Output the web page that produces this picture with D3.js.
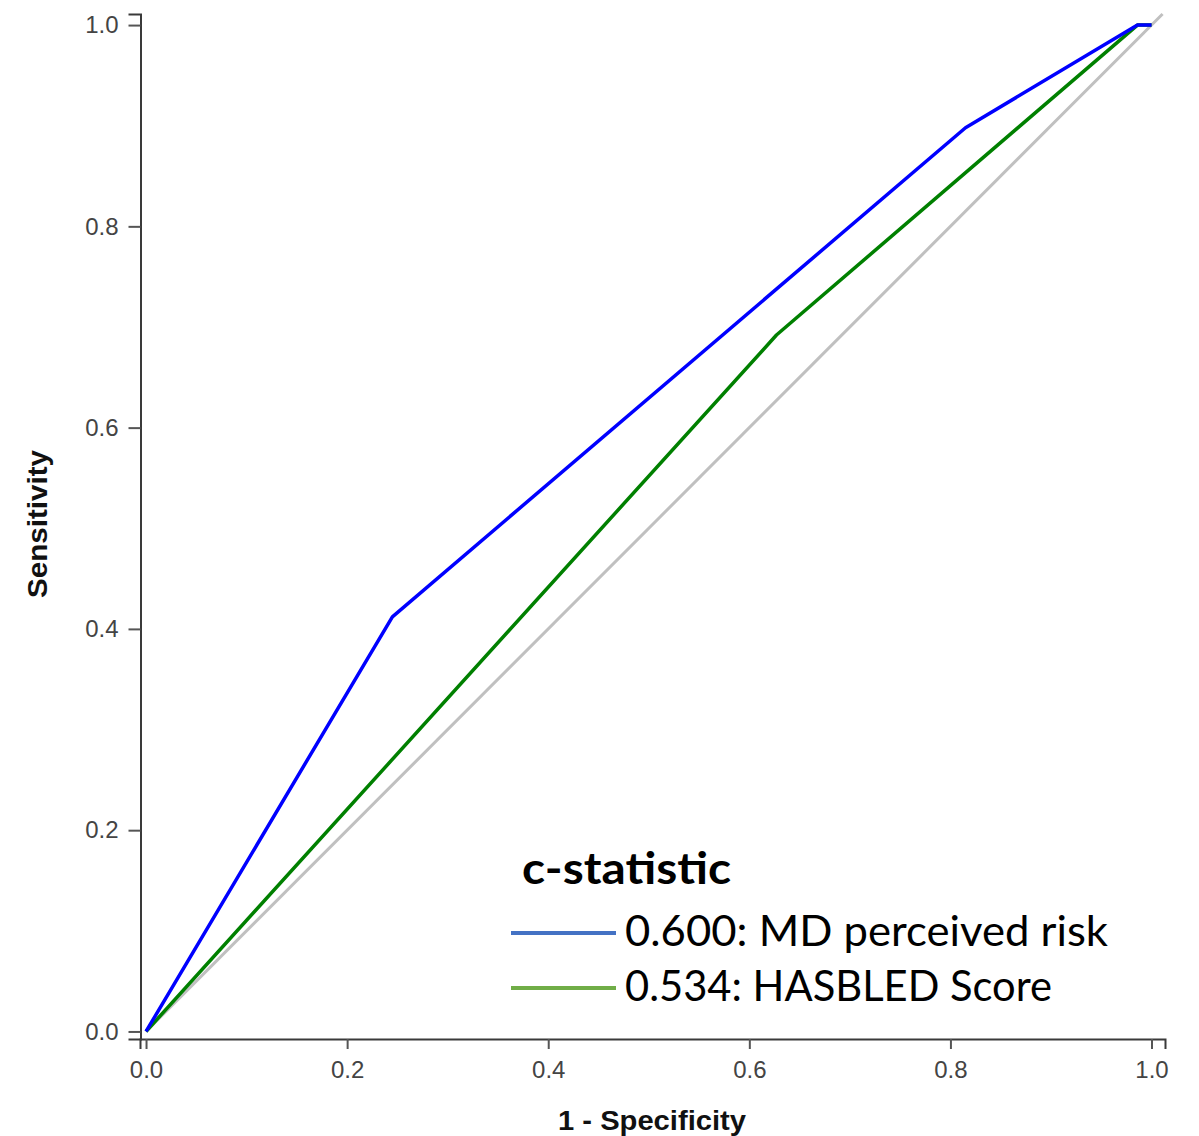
<!DOCTYPE html>
<html>
<head>
<meta charset="utf-8">
<script src="https://cdn.jsdelivr.net/npm/d3@7"></script>
<style>
	body { margin: 0; background: #fff; }
	svg { display: block; }
</style>
</head>
<body>
<svg width="1199" height="1136"></svg>
<script>
'use strict';
// ROC curve points, (1 - specificity, sensitivity)
let aMdFpr = [0, 0.245, 0.815, 0.986, 1.0]
let aMdTpr = [0, 0.412, 0.898, 1.0, 1.0]
let aHbFpr = [0, 0.627, 0.986, 1.0]
let aHbTpr = [0, 0.692, 1.0, 1.0]
// chance line runs a bit past 1 to the plot edge
let aRefEnd = [0, 1.011]

let aTicks = [0, 0.2, 0.4, 0.6, 0.8, 1.0]
let aLegend = ["0.600: MD perceived risk", "0.534: HASBLED Score"]
let aLegendCol = ["#4472c4", "#70ad47"]
let aLineCol = ["#0000ff", "#008000"]

let eSvg = d3.select("svg")

let x = d3.scaleLinear().domain([-0.006, 1.0134]).range([140, 1165])
let y = d3.scaleLinear().domain([-0.0075, 1.011]).range([1039, 14])

let fmt = d3.format(".1f")

// axes
let eXAxis = eSvg.append("g")
	.attr("transform", "translate(0,1039)")
	.call(d3.axisBottom(x).tickValues(aTicks).tickFormat(fmt).tickSizeOuter(0).tickSize(10).tickPadding(12))
let eYAxis = eSvg.append("g")
	.attr("transform", "translate(140.5,0)")
	.call(d3.axisLeft(y).tickValues(aTicks).tickFormat(fmt).tickSizeOuter(0).tickSize(12).tickPadding(10))

for (let eAx of [eXAxis, eYAxis]) {
	eAx.select(".domain").attr("stroke", "#3a3a3a").attr("stroke-width", 2)
	eAx.selectAll(".tick line").attr("stroke", "#555").attr("stroke-width", 2)
	eAx.selectAll(".tick text")
		.attr("fill", "#444")
		.style("font-family", "'Liberation Sans', Arial, sans-serif")
		.style("font-size", "24px")}

// axis titles
eSvg.append("text")
	.attr("x", 652).attr("y", 1130)
	.attr("text-anchor", "middle")
	.style("font-family", "'Liberation Sans', Arial, sans-serif")
	.style("font-weight", "bold").style("font-size", "27px")
	.attr("textLength", 188).attr("lengthAdjust", "spacingAndGlyphs")
	.attr("fill", "#111")
	.text("1 - Specificity")

eSvg.append("text")
	.attr("transform", "translate(47,524) rotate(-90)")
	.attr("text-anchor", "middle")
	.style("font-family", "'Liberation Sans', Arial, sans-serif")
	.style("font-weight", "bold").style("font-size", "27px")
	.attr("textLength", 148).attr("lengthAdjust", "spacingAndGlyphs")
	.attr("fill", "#111")
	.text("Sensitivity")

let line = d3.line().x(d => x(d[0])).y(d => y(d[1]))

// chance diagonal
eSvg.append("path")
	.datum(aRefEnd.map(v => [v, v]))
	.attr("d", line)
	.attr("fill", "none").attr("stroke", "#c0c0c0").attr("stroke-width", 3)

// curves, green under blue
let aCurves = [
	aMdFpr.map((v, i) => [v, aMdTpr[i]]),
	aHbFpr.map((v, i) => [v, aHbTpr[i]])]

eSvg.append("g").selectAll("path")
	.data([1, 0])
	.join("path")
	.attr("d", i => line(aCurves[i]))
	.attr("fill", "none")
	.attr("stroke", i => aLineCol[i])
	.attr("stroke-width", 3.5)
	.attr("stroke-linejoin", "round")

// legend block
let eLeg = eSvg.append("g")
eLeg.append("text")
	.attr("x", 522).attr("y", 884)
	.style("font-family", "Lato, 'Open Sans', sans-serif")
	.style("font-weight", "bold").style("font-size", "44px")
	.attr("textLength", 209).attr("lengthAdjust", "spacingAndGlyphs")
	.text("c-statistic")

let aLegW = [483, 427]
let eItems = eLeg.selectAll("g.item")
	.data(aLegend)
	.join("g")
	.attr("class", "item")
	.attr("transform", (d, i) => "translate(0," + (933 + i * 55) + ")")

eItems.append("line")
	.attr("x1", 511).attr("x2", 616)
	.attr("stroke", (d, i) => aLegendCol[i])
	.attr("stroke-width", 4)

eItems.append("text")
	.attr("x", 625).attr("y", 13)
	.style("font-family", "Lato, 'Open Sans', sans-serif")
	.style("font-size", "42px")
	.attr("textLength", (d, i) => aLegW[i]).attr("lengthAdjust", "spacingAndGlyphs")
	.text(d => d)
</script>
</body>
</html>
